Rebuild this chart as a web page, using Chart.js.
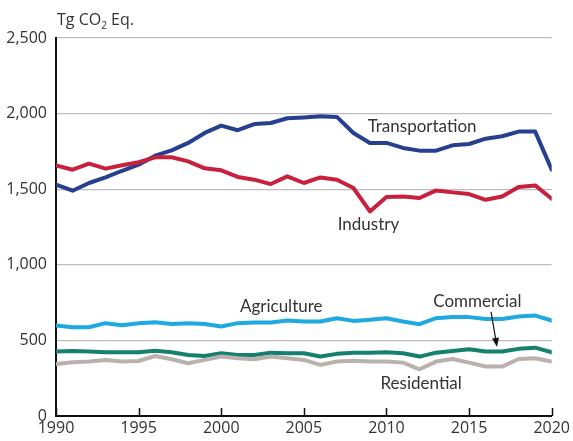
<!DOCTYPE html>
<html>
<head>
<meta charset="utf-8">
<script src="https://cdn.jsdelivr.net/npm/chart.js@4"></script>
<style>
    html, body { margin: 0; padding: 0; background: #fff; }
    #wrap { width: 573px; height: 441px; }
</style>
</head>
<body>
<div id="wrap"><canvas id="chart-emissions"></canvas></div>
<script>
const years = [];
for (let y = 1990; y <= 2020; y++) years.push(y);

const transportation = [1530, 1490, 1541, 1578, 1622, 1662, 1722, 1757, 1806, 1872, 1920, 1890, 1931, 1938, 1969, 1975, 1982, 1978, 1872, 1806, 1806, 1773, 1755, 1755, 1790, 1799, 1834, 1850, 1881, 1881, 1629];
const industry = [1658, 1629, 1669, 1636, 1658, 1678, 1711, 1711, 1684, 1638, 1625, 1581, 1563, 1534, 1585, 1541, 1578, 1563, 1508, 1353, 1448, 1452, 1442, 1492, 1479, 1468, 1430, 1452, 1514, 1525, 1437];
const agriculture = [598, 587, 587, 614, 600, 614, 620, 609, 614, 609, 592, 614, 618, 618, 631, 625, 625, 647, 629, 636, 647, 625, 607, 647, 654, 654, 642, 642, 658, 664, 631];
const commercial = [426, 430, 426, 421, 421, 421, 432, 421, 404, 397, 415, 404, 404, 419, 415, 415, 393, 411, 419, 419, 421, 415, 393, 419, 430, 441, 426, 426, 444, 452, 421];
const residential = [344, 355, 360, 371, 360, 364, 397, 375, 349, 371, 393, 382, 375, 393, 382, 371, 338, 360, 366, 360, 360, 353, 309, 360, 377, 353, 327, 327, 377, 382, 360];

const yTicks = [0, 500, 1000, 1500, 2000, 2500];
const xTicks = [1990, 1995, 2000, 2005, 2010, 2015, 2020];

const textColor = '#333333';
const fontFamily = '"Open Sans", "Noto Sans", sans-serif';
const labelFont = '17px Lato, "Open Sans", sans-serif';

// in-chart series names, anchored in data units (left edge, vertical middle)
const seriesLabels = [
    { text: 'Transportation', x: 2008.86, y: 1916 },
    { text: 'Industry', x: 2007.05, y: 1265 },
    { text: 'Agriculture', x: 2001.13, y: 724 },
    { text: 'Commercial', x: 2012.83, y: 757 },
    { text: 'Residential', x: 2009.64, y: 212 },
];
const commercialArrow = { from: { x: 2016.33, y: 689 }, to: { x: 2016.69, y: 457 } };

const toPoints = values => values.map((v, i) => ({ x: years[i], y: v }));

const lineStyle = { borderWidth: 4, pointRadius: 0, tension: 0, borderJoinStyle: 'round', borderCapStyle: 'round', fill: false };

const annotations = {
    id: 'annotations',
    afterDraw(chart) {
        const { ctx, scales: { x, y } } = chart;
        ctx.save();

        // small tick marks pointing up from the x axis
        ctx.strokeStyle = '#111';
        ctx.lineWidth = 1.5;
        xTicks.forEach(t => {
            const px = Math.round(x.getPixelForValue(t)) + 0.5;
            ctx.beginPath();
            ctx.moveTo(px, y.bottom);
            ctx.lineTo(px, y.bottom - 8);
            ctx.stroke();
        });

        // axis unit
        ctx.fillStyle = textColor;
        ctx.textBaseline = 'alphabetic';
        ctx.textAlign = 'left';
        ctx.font = '16px ' + fontFamily;
        let tx = 57;
        const ty = 25;
        ctx.fillText('Tg CO', tx, ty);
        tx += ctx.measureText('Tg CO').width;
        ctx.font = '10px ' + fontFamily;
        ctx.fillText('2', tx, ty + 4);
        tx += ctx.measureText('2').width;
        ctx.font = '16px ' + fontFamily;
        ctx.fillText(' Eq.', tx, ty);

        // series names
        ctx.font = labelFont;
        ctx.textBaseline = 'middle';
        seriesLabels.forEach(l => {
            ctx.fillText(l.text, x.getPixelForValue(l.x), y.getPixelForValue(l.y));
        });

        // arrow to the commercial line
        const x1 = x.getPixelForValue(commercialArrow.from.x), y1 = y.getPixelForValue(commercialArrow.from.y);
        const x2 = x.getPixelForValue(commercialArrow.to.x), y2 = y.getPixelForValue(commercialArrow.to.y);
        const ang = Math.atan2(y2 - y1, x2 - x1);
        ctx.strokeStyle = '#111';
        ctx.lineWidth = 1.2;
        ctx.beginPath();
        ctx.moveTo(x1, y1);
        ctx.lineTo(x2 - 6 * Math.cos(ang), y2 - 6 * Math.sin(ang));
        ctx.stroke();
        ctx.fillStyle = '#111';
        ctx.beginPath();
        ctx.moveTo(x2, y2);
        ctx.lineTo(x2 - 9 * Math.cos(ang) + 3.5 * Math.sin(ang), y2 - 9 * Math.sin(ang) - 3.5 * Math.cos(ang));
        ctx.lineTo(x2 - 9 * Math.cos(ang) - 3.5 * Math.sin(ang), y2 - 9 * Math.sin(ang) + 3.5 * Math.cos(ang));
        ctx.closePath();
        ctx.fill();

        ctx.restore();
    }
};

new Chart(document.getElementById('chart-emissions'), {
    type: 'line',
    data: {
        datasets: [
            { label: 'Residential', data: toPoints(residential), borderColor: '#b9b1ae', ...lineStyle },
            { label: 'Commercial', data: toPoints(commercial), borderColor: '#16806e', ...lineStyle },
            { label: 'Agriculture', data: toPoints(agriculture), borderColor: '#1ea9e1', ...lineStyle },
            { label: 'Industry', data: toPoints(industry), borderColor: '#c8213d', ...lineStyle },
            { label: 'Transportation', data: toPoints(transportation), borderColor: '#263f8e', ...lineStyle },
        ]
    },
    options: {
        responsive: true,
        maintainAspectRatio: false,
        animation: false,
        layout: { padding: { top: 38, right: 19, left: 0, bottom: 0 } },
        scales: {
            x: {
                type: 'linear',
                min: 1990,
                max: 2020,
                afterBuildTicks: scale => { scale.ticks = xTicks.map(v => ({ value: v })); },
                afterFit: scale => { scale.height = 25; },
                ticks: {
                    color: textColor,
                    font: { family: fontFamily, size: 16 },
                    padding: 3,
                    maxRotation: 0,
                    callback: v => String(v),
                },
                grid: { display: false, drawTicks: false },
                border: { display: true, color: '#111', width: 2 },
            },
            y: {
                min: 0,
                max: 2500,
                afterBuildTicks: scale => { scale.ticks = yTicks.map(v => ({ value: v })); },
                afterFit: scale => { scale.width = 56; },
                ticks: {
                    color: textColor,
                    font: { family: fontFamily, size: 16 },
                    padding: 9,
                    callback: v => v.toLocaleString('en-US'),
                },
                grid: { color: '#bdbdbd', lineWidth: 1.3, drawTicks: false },
                border: { display: true, color: '#111', width: 2 },
            }
        },
        plugins: {
            legend: { display: false },
            tooltip: { enabled: false },
        }
    },
    plugins: [annotations]
});
</script>
</body>
</html>
